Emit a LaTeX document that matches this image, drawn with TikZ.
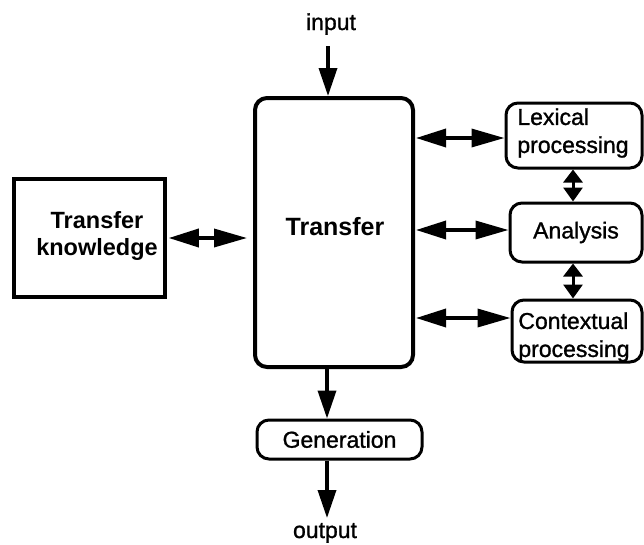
\documentclass[tikz,border=0pt]{standalone}
\usepackage{fontspec}
\setmainfont{Liberation Sans}
\usetikzlibrary{arrows.meta,calc}
\newfontfamily\labelfont[FakeBold=1.2]{Liberation Sans}
\begin{document}
\begin{tikzpicture}[x=1pt,y=-1pt,
  box/.style={draw,line width=3pt,rounded corners=12pt,inner sep=0pt,align=left,
              font=\labelfont\fontsize{23}{28}\selectfont},
  plainbox/.style={draw,line width=3.5pt,inner sep=0pt},
  lbl/.style={font=\labelfont\fontsize{23}{28}\selectfont,inner sep=0pt,align=left},
  boldlbl/.style={font=\bfseries\fontsize{23.5}{27}\selectfont,inner sep=0pt,align=center},
  flow/.style={line width=3.5pt,-{Triangle[length=28pt,width=18pt]}},
  link/.style={line width=3.5pt,{Triangle[length=30pt,width=18pt]}-{Triangle[length=33pt,width=18pt]}},
  hop/.style={line width=3pt,{Triangle[length=13pt,width=19pt]}-{Triangle[length=14pt,width=19pt]}}]
\useasboundingbox (0,0) rectangle (644,544);

% central transfer module
\node[box,line width=4pt,minimum width=158pt,minimum height=269pt] (trans) at (334,232.5) {};
\node[boldlbl,font=\bfseries\fontsize{25}{28}\selectfont,anchor=base] (translbl) at (335,235) {Transfer};

% knowledge base on the left
\node[plainbox,minimum width=151pt,minimum height=118pt] (know) at (89.5,238) {};
\node[boldlbl] (knowlbl) at (97,236) {Transfer\\knowledge};

% processing modules on the right
\node[box,minimum width=136pt,minimum height=65pt] (lex) at (574,135.5) {};
\node[lbl] (lexlbl) at (573,133) {Lexical\\processing};
\node[box,minimum width=132pt,minimum height=59pt] (ana) at (576,232.5) {Analysis};
\node[box,minimum width=130pt,minimum height=62pt] (ctx) at (577,331) {};
\node[lbl] (ctxlbl) at (574,337) {Contextual\\processing};

% generation stage
\node[box,minimum width=165pt,minimum height=39pt] (gen) at (339.5,439.5) {Generation};

% input and output labels
\node[lbl,anchor=base] (in) at (331,30) {input};
\node[lbl,anchor=base] (out) at (325,538) {output};
\coordinate (inend) at (328,46);
\coordinate (outend) at (327,518);

% vertical flow
\draw[flow] (inend) -- (inend |- trans.north);
\draw[flow] (327,0 |- trans.south) -- (327,0 |- gen.north);
\draw[flow] (327,0 |- gen.south) -- (outend);

% links to the transfer module
\draw[link] ([xshift=2pt]know.east) -- ([xshift=-6pt]trans.west |- know.east);
\draw[link] ([xshift=1pt]trans.east |- 0,138) -- (lex.west |- 0,138);
\draw[link] ([xshift=1pt]trans.east |- 0,230) -- (ana.west |- 0,230);
\draw[link] ([xshift=1pt]trans.east |- 0,318) -- (ctx.west |- 0,318);

% links between processing modules
\draw[hop] (573,0 |- lex.south) -- (573,0 |- ana.north);
\draw[hop] (573,0 |- ana.south) -- (573,0 |- ctx.north);
\end{tikzpicture}
\end{document}
